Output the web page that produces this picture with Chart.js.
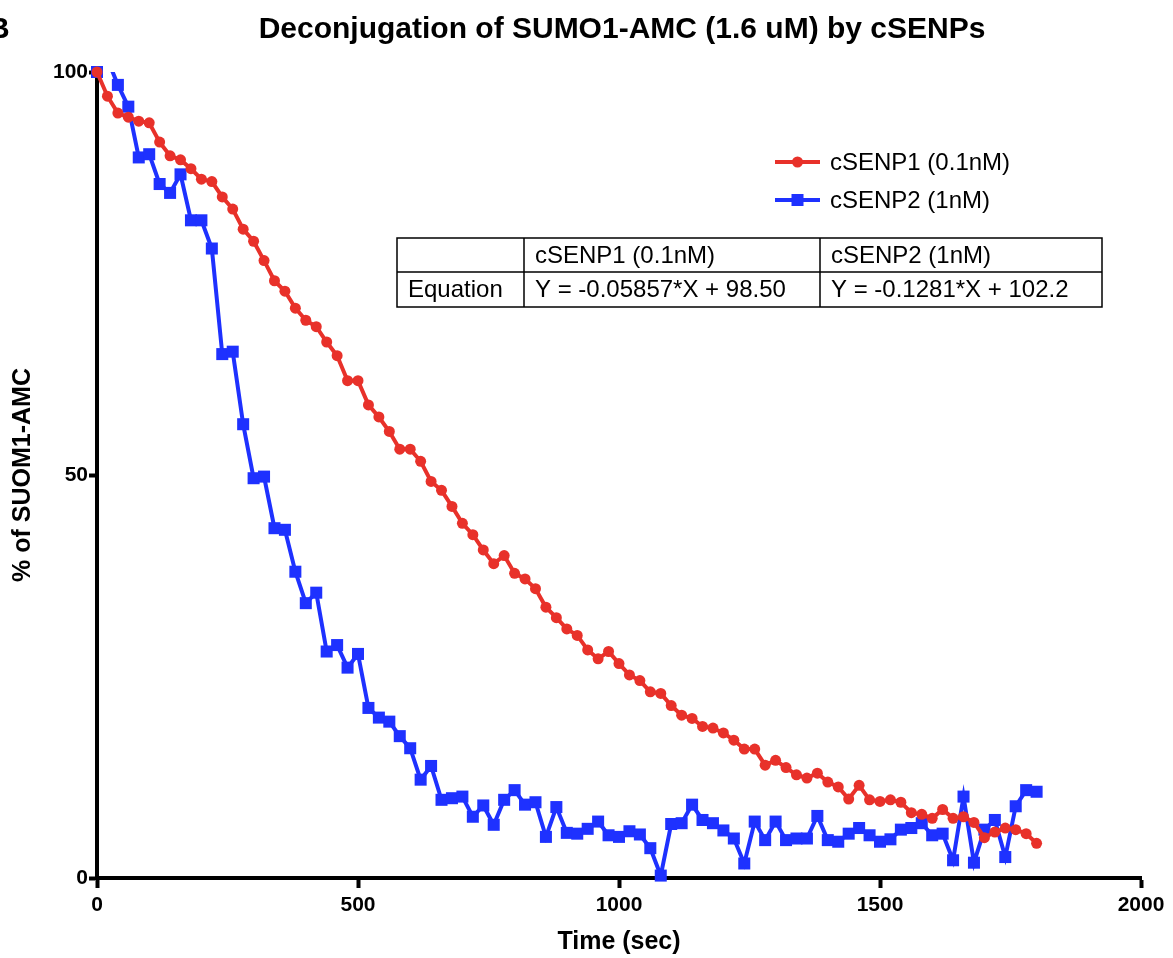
<!DOCTYPE html>
<html>
<head>
<meta charset="utf-8">
<script src="https://cdn.jsdelivr.net/npm/chart.js@4.4.1/dist/chart.umd.min.js"></script>
<style>
    html, body { margin: 0; padding: 0; background: #fff; }
    #wrap { width: 1173px; height: 958px; position: relative; }
</style>
</head>
<body>
<div id="wrap"><canvas id="sumoChart"></canvas></div>
<script>
// sampling times (sec)
const sampleTimes = [
    0, 20, 40, 60, 80, 100, 120, 140, 160, 180,
    200, 220, 240, 260, 280, 300, 320, 340, 360, 380,
    400, 420, 440, 460, 480, 500, 520, 540, 560, 580,
    600, 620, 640, 660, 680, 700, 720, 740, 760, 780,
    800, 820, 840, 860, 880, 900, 920, 940, 960, 980,
    1000, 1020, 1040, 1060, 1080, 1100, 1120, 1140, 1160, 1180,
    1200, 1220, 1240, 1260, 1280, 1300, 1320, 1340, 1360, 1380,
    1400, 1420, 1440, 1460, 1480, 1500, 1520, 1540, 1560, 1580,
    1600, 1620, 1640, 1660, 1680, 1700, 1720, 1740, 1760, 1780,
    1800,
];

// % of SUMO1-AMC remaining
const senp1Values = [
    100, 97.0, 94.9, 94.4, 93.9, 93.7, 91.3, 89.6, 89.1, 88.0,
    86.7, 86.4, 84.5, 83.0, 80.5, 79.0, 76.6, 74.1, 72.8, 70.7,
    69.2, 68.4, 66.5, 64.8, 61.7, 61.7, 58.7, 57.2, 55.4, 53.2,
    53.2, 51.7, 49.2, 48.1, 46.1, 44.0, 42.6, 40.7, 39.0, 40.0,
    37.8, 37.1, 35.9, 33.6, 32.3, 30.9, 30.1, 28.3, 27.2, 28.1,
    26.6, 25.2, 24.5, 23.1, 22.9, 21.4, 20.2, 19.8, 18.8, 18.6,
    18.0, 17.1, 16.0, 16.0, 14.0, 14.6, 13.7, 12.8, 12.4, 13.0,
    11.9, 11.3, 9.8, 11.5, 9.7, 9.5, 9.7, 9.4, 8.1, 7.9,
    7.4, 8.5, 7.4, 7.6, 6.9, 5.0, 5.7, 6.2, 6.0, 5.5,
    4.3,
];

const senp2Values = [
    100, 101.6, 98.4, 95.7, 89.4, 89.8, 86.1, 85.0, 87.3, 81.6,
    81.6, 78.1, 65.0, 65.3, 56.3, 49.6, 49.8, 43.4, 43.2, 38.0,
    34.1, 35.4, 28.1, 28.9, 26.1, 27.8, 21.1, 19.9, 19.4, 17.6,
    16.1, 12.2, 13.9, 9.7, 9.9, 10.1, 7.6, 9.0, 6.6, 9.7,
    10.9, 9.1, 9.4, 5.1, 8.8, 5.6, 5.5, 6.1, 7.0, 5.3,
    5.1, 5.8, 5.4, 3.7, 0.3, 6.7, 6.8, 9.1, 7.2, 6.8,
    5.9, 4.9, 1.8, 7.0, 4.7, 7.0, 4.7, 4.9, 4.9, 7.7,
    4.7, 4.5, 5.5, 6.2, 5.3, 4.5, 4.8, 6.0, 6.2, 6.8,
    5.3, 5.5, 2.2, 10.1, 1.9, 6.0, 7.2, 2.6, 8.9, 10.9,
    10.7,
];

const seriesLabels = ['cSENP1 (0.1nM)', 'cSENP2 (1nM)'];
const xTicks = [0, 500, 1000, 1500, 2000];
const yTicks = [0, 50, 100];

const tableHeader = ['', 'cSENP1 (0.1nM)', 'cSENP2 (1nM)'];
const tableRow = ['Equation', 'Y = -0.05857*X + 98.50', 'Y = -0.1281*X + 102.2'];

const RED = '#e8312a';
const BLUE = '#1e31ff';
const FONT = '"Liberation Sans", Arial, Helvetica, sans-serif';

const toPoints = (values) => values.map((v, i) => ({ x: sampleTimes[i], y: v }));
const senp1Points = toPoints(senp1Values);
const senp2Points = toPoints(senp2Values);

// title, panel letter, legend and equation table
const extrasPlugin = {
    id: 'extras',
    afterDraw(chart) {
        const { ctx } = chart;
        ctx.save();
        ctx.fillStyle = '#000';
        ctx.textBaseline = 'middle';

        ctx.font = `bold 30px ${FONT}`;
        ctx.textAlign = 'center';
        ctx.fillText('Deconjugation of SUMO1-AMC (1.6 uM) by cSENPs', 622, 30);
        ctx.textAlign = 'left';
        ctx.fillText('B', -12, 30);

        // legend
        const legendRows = [
            { label: seriesLabels[0], color: RED, style: 'circle', y: 162 },
            { label: seriesLabels[1], color: BLUE, style: 'rect', y: 200 },
        ];
        ctx.font = `24px ${FONT}`;
        legendRows.forEach((row) => {
            ctx.strokeStyle = row.color;
            ctx.fillStyle = row.color;
            ctx.lineWidth = 4;
            ctx.beginPath();
            ctx.moveTo(775, row.y);
            ctx.lineTo(820, row.y);
            ctx.stroke();
            if (row.style === 'circle') {
                ctx.beginPath();
                ctx.arc(797.5, row.y, 5.5, 0, Math.PI * 2);
                ctx.fill();
            } else {
                ctx.fillRect(791.5, row.y - 6, 12, 12);
            }
            ctx.fillStyle = '#000';
            ctx.fillText(row.label, 830, row.y + 1);
        });

        // table
        const colX = [397, 524, 820, 1102];
        const rowY = [238, 272, 307];
        ctx.strokeStyle = '#000';
        ctx.lineWidth = 1.5;
        ctx.strokeRect(colX[0], rowY[0], colX[3] - colX[0], rowY[2] - rowY[0]);
        ctx.beginPath();
        ctx.moveTo(colX[0], rowY[1]);
        ctx.lineTo(colX[3], rowY[1]);
        ctx.moveTo(colX[1], rowY[0]);
        ctx.lineTo(colX[1], rowY[2]);
        ctx.moveTo(colX[2], rowY[0]);
        ctx.lineTo(colX[2], rowY[2]);
        ctx.stroke();
        ctx.fillStyle = '#000';
        [tableHeader, tableRow].forEach((cells, r) => {
            const cy = (rowY[r] + rowY[r + 1]) / 2 + 1;
            cells.forEach((text, c) => {
                ctx.fillText(text, colX[c] + 11, cy);
            });
        });
        ctx.restore();
    },
};

const tickFont = { family: FONT, size: 21, weight: 'bold' };
const titleFont = { family: FONT, size: 25, weight: 'bold' };

new Chart(document.getElementById('sumoChart'), {
    type: 'line',
    data: {
        datasets: [
            {
                label: seriesLabels[0],
                data: senp1Points,
                borderColor: RED,
                backgroundColor: RED,
                borderWidth: 4,
                pointStyle: 'circle',
                pointRadius: 5.5,
                pointBorderWidth: 0,
                pointBackgroundColor: RED,
                tension: 0,
                clip: false,
            },
            {
                label: seriesLabels[1] + ' markers',
                data: senp2Points,
                showLine: false,
                pointStyle: 'rect',
                pointRadius: (c) => (c.raw && c.raw.y > 100 ? 0 : 8.5),
                pointBorderWidth: 0,
                pointBackgroundColor: BLUE,
                borderColor: BLUE,
                backgroundColor: BLUE,
                clip: false,
            },
            {
                label: seriesLabels[1],
                data: senp2Points,
                borderColor: BLUE,
                backgroundColor: BLUE,
                borderWidth: 4,
                pointRadius: 0,
                tension: 0,
                clip: 0,
            },
        ],
    },
    options: {
        responsive: true,
        maintainAspectRatio: false,
        animation: false,
        layout: { padding: { top: 72, right: 32, bottom: 0, left: 0 } },
        plugins: {
            legend: { display: false },
            title: { display: false },
            tooltip: { enabled: false },
        },
        scales: {
            x: {
                type: 'linear',
                min: 0,
                max: 2000,
                afterBuildTicks(scale) {
                    scale.ticks = xTicks.map((v) => ({ value: v }));
                },
                afterFit(scale) {
                    scale.height = 80;
                },
                ticks: {
                    color: '#000',
                    font: tickFont,
                    padding: 5,
                    maxRotation: 0,
                    autoSkip: false,
                    callback: (v) => String(v),
                },
                grid: {
                    display: true,
                    drawOnChartArea: false,
                    drawTicks: true,
                    tickLength: 10,
                    tickWidth: 4,
                    tickColor: '#000',
                },
                border: { display: true, color: '#000', width: 4 },
                title: {
                    display: true,
                    text: 'Time (sec)',
                    color: '#000',
                    font: titleFont,
                    padding: { top: 0, bottom: 1 },
                },
            },
            y: {
                type: 'linear',
                min: 0,
                max: 100,
                afterBuildTicks(scale) {
                    scale.ticks = yTicks.map((v) => ({ value: v }));
                },
                afterFit(scale) {
                    scale.width = 97;
                },
                ticks: {
                    color: '#000',
                    font: tickFont,
                    padding: 1,
                    autoSkip: false,
                    callback: (v) => String(v),
                },
                grid: {
                    display: true,
                    drawOnChartArea: false,
                    drawTicks: true,
                    tickLength: 8,
                    tickWidth: 4,
                    tickColor: '#000',
                },
                border: { display: true, color: '#000', width: 4 },
                title: {
                    display: true,
                    text: '% of SUOM1-AMC',
                    color: '#000',
                    font: titleFont,
                    padding: { top: 8, bottom: 0 },
                },
            },
        },
    },
    plugins: [extrasPlugin],
});
</script>
</body>
</html>
